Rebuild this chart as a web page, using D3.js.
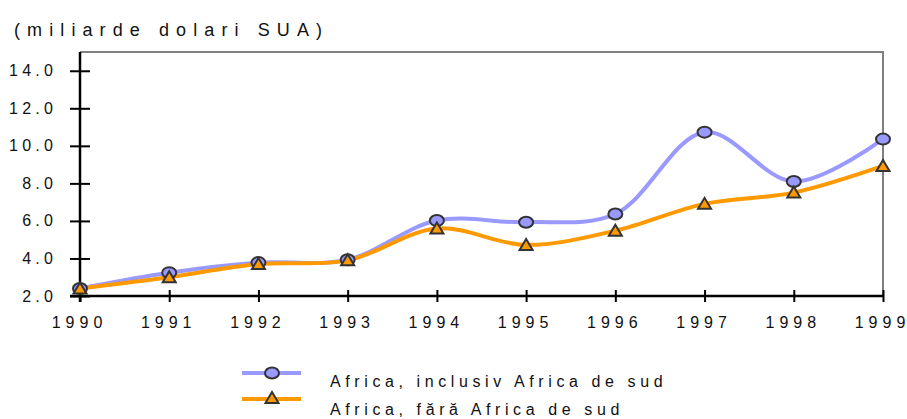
<!DOCTYPE html>
<html>
<head>
<meta charset="utf-8">
<script src="https://cdn.jsdelivr.net/npm/d3@7"></script>
<style>
  body { margin: 0; background: #fff; }
  svg { font-family: "Liberation Sans", Arial, sans-serif; }
</style>
</head>
<body>
<svg width="907" height="419"></svg>
<script>
// date
const years = [1990, 1991, 1992, 1993, 1994, 1995, 1996, 1997, 1998, 1999];
const inclusiv = [2.4, 3.24, 3.78, 3.93, 6.02, 5.93, 6.37, 10.73, 8.1, 10.36];
const faraSud = [2.4, 3.0, 3.7, 3.9, 5.6, 4.72, 5.48, 6.91, 7.51, 8.93];
const yTicks = [2, 4, 6, 8, 10, 12, 14];
const seriesNames = ["Africa, inclusiv  Africa de sud", "Africa, fără Africa de sud"];

const svg = d3.select("svg");

const x = d3.scalePoint().domain(years).range([80, 883]);
const y = d3.scaleLinear().domain([2, 15]).range([296, 52]);

// titlu
svg.append("text")
  .attr("x", 14).attr("y", 36)
  .attr("font-size", 18)
  .attr("letter-spacing", 7.1)
  .attr("fill", "#111")
  .text("(miliarde dolari SUA)");

// cadru (sus + dreapta)
svg.append("path")
  .attr("d", `M${x(1990)},${y(15)}H${x(1999)}V${y(2)}`)
  .attr("fill", "none")
  .attr("stroke", "#808080")
  .attr("stroke-width", 2);

// axa Y
const yAxis = svg.append("g").attr("transform", `translate(${x(1990)},0)`)
  .call(d3.axisLeft(y).tickValues(yTicks).tickSize(0).tickFormat(""));
yAxis.select(".domain").remove();
yAxis.selectAll(".tick text").remove();
yAxis.append("line")
  .attr("y1", y(15)).attr("y2", y(2) + 6)
  .attr("stroke", "#000").attr("stroke-width", 2.5);
yAxis.selectAll(".tick").append("line")
  .attr("x1", -10).attr("x2", 10)
  .attr("stroke", "#000").attr("stroke-width", 2);

// etichetele Y separat, aliniate la dreapta manual
const yls = 4.3;
svg.append("g").selectAll("text")
  .data(yTicks)
  .join("text")
  .attr("y", d => y(d) + 5.5)
  .attr("font-size", 16)
  .attr("letter-spacing", yls)
  .attr("fill", "#111")
  .text(d3.format(".1f"))
  .each(function() {
    const w = this.getComputedTextLength();
    d3.select(this).attr("x", x(1990) - 27 - (w - yls));
  });

// axa X
const xAxis = svg.append("g").attr("transform", `translate(0,${y(2)})`)
  .call(d3.axisBottom(x).tickSize(0).tickFormat(d => String(d)));
xAxis.attr("font-family", null).attr("font-size", null);
xAxis.select(".domain").remove();
xAxis.append("line")
  .attr("x1", x(1990) - 10).attr("x2", x(1999))
  .attr("stroke", "#000").attr("stroke-width", 2.5);
xAxis.selectAll(".tick").append("line")
  .attr("y1", -6).attr("y2", 6)
  .attr("stroke", "#000").attr("stroke-width", 2);
xAxis.selectAll(".tick text")
  .attr("y", 32).attr("dy", 0)
  .attr("dx", -1)
  .attr("fill", "#111")
  .attr("font-size", 16)
  .attr("letter-spacing", 5);

const line = d3.line()
  .x((d, i) => x(years[i]))
  .y(d => y(d))
  .curve(d3.curveCatmullRom.alpha(0.5));

const colors = ["#9999ff", "#ff9900"];

// linii
[inclusiv, faraSud].forEach((vals, k) => {
  svg.append("path")
    .datum(vals)
    .attr("d", line)
    .attr("fill", "none")
    .attr("stroke", colors[k])
    .attr("stroke-width", 4);
});

function drawCircle(g, cx, cy) {
  g.append("ellipse")
    .attr("cx", cx).attr("cy", cy)
    .attr("rx", 7).attr("ry", 5.5)
    .attr("fill", "#9999ff")
    .attr("stroke", "#333").attr("stroke-width", 2);
}
function drawTri(g, cx, cy) {
  g.append("path")
    .attr("d", `M${cx - 6.5},${cy + 5}L${cx},${cy - 6}L${cx + 6.5},${cy + 5}Z`)
    .attr("fill", "#ff9900")
    .attr("stroke", "#333").attr("stroke-width", 2)
    .attr("stroke-linejoin", "miter");
}

// markere
const mk = svg.append("g");
inclusiv.forEach((v, i) => drawCircle(mk, x(years[i]), y(v)));
faraSud.forEach((v, i) => drawTri(mk, x(years[i]), y(v)));

// legenda
const leg = svg.append("g");
[373, 399].forEach((ly, k) => {
  leg.append("line")
    .attr("x1", 242).attr("x2", 301)
    .attr("y1", ly).attr("y2", ly)
    .attr("stroke", colors[k]).attr("stroke-width", 4);
  if (k === 0) drawCircle(leg, 272, ly); else drawTri(leg, 272, ly - 1);
  leg.append("text")
    .attr("x", 330).attr("y", ly + 14 + (k === 1 ? 2 : 0))
    .attr("font-size", 16)
    .attr("letter-spacing", 4.6)
    .attr("fill", "#111")
    .text(seriesNames[k]);
});
</script>
</body>
</html>
